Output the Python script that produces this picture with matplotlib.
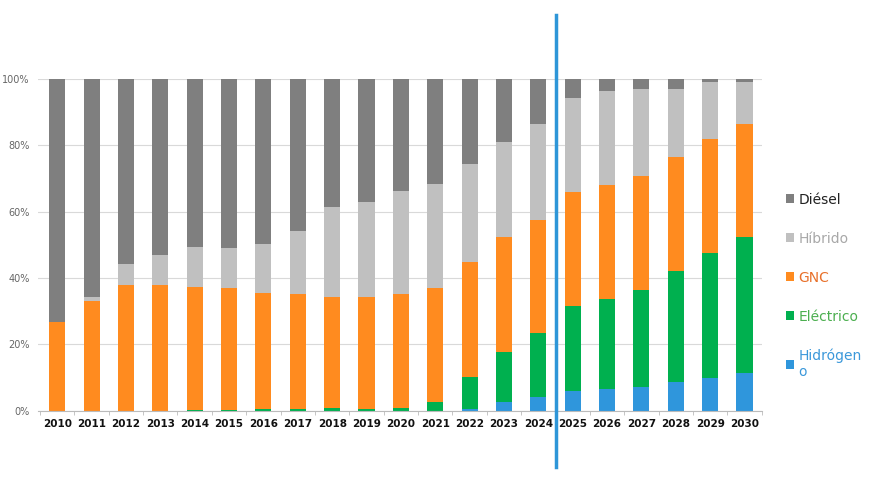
import numpy as np
import matplotlib
import matplotlib.pyplot as plt
from matplotlib.patches import Patch

matplotlib.use('Agg')

years = [str(y) for y in range(2010, 2031)]

# cumulative tops (percent)
hidrogeno = [0, 0, 0, 0, 0, 0, 0, 0, 0, 0, 0, 0, 0.5, 2.7, 4.0,
             5.9, 6.4, 7.2, 8.7, 9.9, 11.3]
electrico_top = [0, 0, 0, 0, 0.2, 0.2, 0.4, 0.5, 0.7, 0.6, 0.7, 2.7, 10.3, 17.8, 23.3,
                 31.7, 33.7, 36.4, 42.1, 47.4, 52.3]
gnc_top = [26.8, 33.2, 37.9, 37.8, 37.2, 37.0, 35.5, 35.1, 34.3, 34.3, 35.1, 37.0, 44.7, 52.3, 57.5,
           65.9, 67.9, 70.7, 76.5, 81.8, 86.5]
hibrido_top = [26.8, 34.2, 44.2, 46.9, 49.4, 49.1, 50.2, 54.1, 61.4, 63.0, 66.3, 68.3, 74.3, 80.9, 86.3,
               94.4, 96.4, 97.0, 97.0, 99.2, 99.2]

labels = ['Diésel', 'Híbrido', 'GNC', 'Eléctrico', 'Hidrógen\no']
colors = ['#7f7f7f', '#c0c0c0', '#ff8b1f', '#00b04f', '#2f96dc']
text_colors = ['#222222', '#a8a8a8', '#e8702a', '#4caf50', '#3b98da']

hid = np.array(hidrogeno)
ele = np.array(electrico_top) - hid
gnc = np.array(gnc_top) - np.array(electrico_top)
hib = np.array(hibrido_top) - np.array(gnc_top)
die = 100 - np.array(hibrido_top)

fig = plt.figure(figsize=(8.75, 5), dpi=100)
ax = fig.add_axes([0.0434, 0.1786, 0.8275, 0.6634])

x = np.arange(len(years))
w = 0.47
bottom = np.zeros(len(years))
for vals, c in zip([hid, ele, gnc, hib, die], colors[::-1]):
    ax.bar(x, vals, w, bottom=bottom, color=c, zorder=2)
    bottom += vals

ax.set_ylim(0, 100)
ax.set_xlim(-0.56, 20.51)
ax.set_yticks(range(0, 101, 20))
ax.set_yticklabels([f'{v}%' for v in range(0, 101, 20)], fontsize=7, color='#666666')
ax.yaxis.grid(True, color='#d9d9d9', linewidth=0.8, zorder=0)
ax.tick_params(axis='y', length=0, pad=6)
ax.set_xticks(x)
ax.set_xticklabels(years, fontsize=7.5, fontweight='bold', color='#111111')
ax.set_xticks(np.arange(-0.5, 21, 1), minor=True)
ax.tick_params(axis='x', which='major', length=0, pad=6)
ax.tick_params(axis='x', which='minor', length=3, color='#bbbbbb')
for s in ['top', 'right', 'left']:
    ax.spines[s].set_visible(False)
ax.spines['bottom'].set_color('#bbbbbb')

# separator between historical and projected years
ax.axvline(14.52, ymin=-0.17, ymax=1.193, color='#2e96d8', linewidth=2.5, clip_on=False, zorder=5)

handles = [Patch(facecolor=c, edgecolor='none') for c in colors]
leg = ax.legend(handles, labels, loc='upper left', bbox_to_anchor=(1.016, 0.695),
                frameon=False, fontsize=10, handlelength=0.6, handleheight=0.6,
                handletextpad=0.3, labelspacing=1.8, labelcolor=text_colors)

fig.savefig('out.png', dpi=100)
